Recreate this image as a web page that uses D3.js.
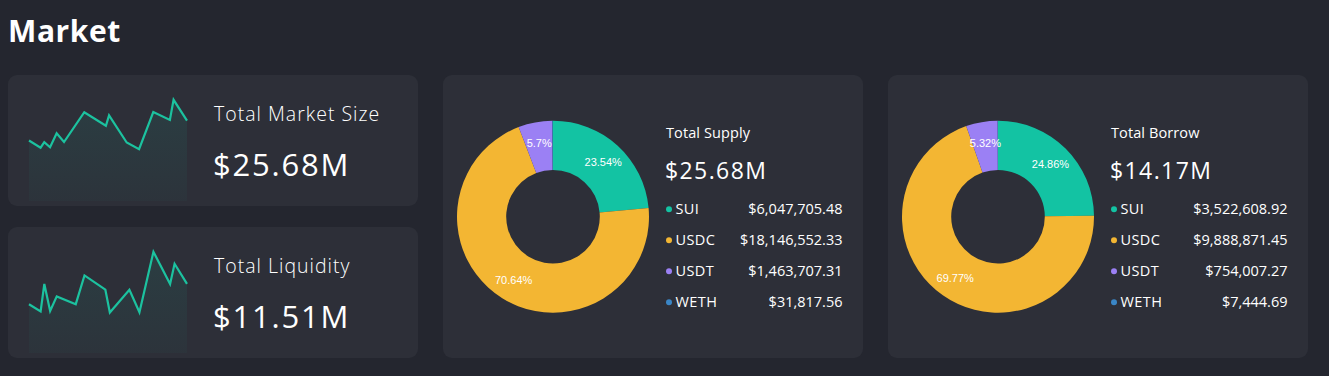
<!DOCTYPE html>
<html><head><meta charset="utf-8">
<script src="https://cdn.jsdelivr.net/npm/d3@7"></script>
<style>
html,body{margin:0;padding:0;background:#24262f;}
svg{display:block;}
text{font-family:"Open Sans",sans-serif;}
</style></head>
<body>
<svg id="c" width="1329" height="376"></svg>
<script>
// ---- data ----
const pageTitle = "Market";
const marketSizeLabel = "Total Market Size";
const marketSizeValue = "$25.68M";
const marketDays = [0, 4.4, 5.8, 8, 10.5, 13.3, 21, 29.2, 30.4, 37.1, 41.8, 47.2, 53.5, 54.9, 60];
const marketValues = [60.5, 53.3, 58.8, 53.7, 67.7, 59, 88.8, 75.2, 85.6, 58.5, 51.8, 89, 81, 101.2, 80.3];

const liquidityLabel = "Total Liquidity";
const liquidityValue = "$11.51M";
const liquidityDays = [0, 4.4, 5.8, 8, 10.5, 17.7, 21, 28.9, 30.6, 38, 41.8, 47.1, 53.4, 55.1, 59.8];
const liquidityValues = [48.5, 41.3, 68.7, 41.8, 56.3, 48.6, 77.2, 63, 40.3, 63, 40.5, 100.7, 68.7, 88.8, 68.8];

const assets = ["SUI", "USDC", "USDT", "WETH"];
const assetColors = ["#13c3a3", "#f3b633", "#9b80f4", "#3a86c6"];

const supplyLabel = "Total Supply";
const supplyTotal = "$25.68M";
const supplyValues = [6047705.48, 18146552.33, 1463707.31, 31817.56];

const borrowLabel = "Total Borrow";
const borrowTotal = "$14.17M";
const borrowValues = [3522608.92, 9888871.45, 754007.27, 7444.69];

// ---- helpers ----
// percentages with 2 decimals that sum to 100 (largest remainder method)
function percents(values) {
  const sum = d3.sum(values);
  const digits = 100 * 100;
  const raw = values.map(v => v / sum * digits);
  const floors = raw.map(Math.floor);
  let left = digits - d3.sum(floors);
  const rem = raw.map((r, i) => r - floors[i]);
  while (left > 0) {
    let mi = 0;
    rem.forEach((r, i) => { if (r > rem[mi]) mi = i; });
    floors[mi] += 1; rem[mi] = -1; left--;
  }
  return floors.map(f => f / 100);
}

// ---- drawing ----
const svg = d3.select("#c");
const cardFill = "#2d2f38";

svg.append("text").attr("x", 8).attr("y", 42)
  .attr("fill", "#ffffff").attr("font-size", 30).attr("font-weight", 700)
  .attr("letter-spacing", 0.6)
  .text(pageTitle);

const defs = svg.append("defs");
const grad = defs.append("linearGradient").attr("id", "areaGrad")
  .attr("x1", 0).attr("y1", 0).attr("x2", 0).attr("y2", 1);
grad.append("stop").attr("offset", "0%").attr("stop-color", "#17c2a0").attr("stop-opacity", 0.10);
grad.append("stop").attr("offset", "100%").attr("stop-color", "#17c2a0").attr("stop-opacity", 0.03);

function sparkCard(top, days, values, label, value) {
  const g = svg.append("g").attr("transform", `translate(8,${top})`);
  g.append("rect").attr("width", 410).attr("height", 131).attr("rx", 9).attr("fill", cardFill);
  const x = d3.scaleLinear().domain(d3.extent(days)).range([21, 179]);
  const y = d3.scaleLinear().domain([0, d3.max(values)]).range([126, 24.8]);
  const pts = days.map((d, i) => [d, values[i]]);
  g.append("path").datum(pts)
    .attr("fill", "url(#areaGrad)")
    .attr("d", d3.area().x(d => x(d[0])).y0(y(0)).y1(d => y(d[1])));
  g.append("path").datum(pts)
    .attr("fill", "none").attr("stroke", "#1cc29f").attr("stroke-width", 2.2)
    .attr("stroke-linejoin", "miter")
    .attr("d", d3.line().x(d => x(d[0])).y(d => y(d[1])));
  g.append("text").attr("x", 206).attr("y", 46).attr("fill", "#ffffff")
    .attr("font-size", 19.5).attr("font-weight", 300).attr("letter-spacing", 1)
    .text(label);
  g.append("text").attr("x", 205).attr("y", 100.7).attr("fill", "#ffffff")
    .attr("font-size", 31).attr("font-weight", 400).attr("letter-spacing", 1.8)
    .text(value);
}
sparkCard(75, marketDays, marketValues, marketSizeLabel, marketSizeValue);
sparkCard(227, liquidityDays, liquidityValues, liquidityLabel, liquidityValue);

const color = d3.scaleOrdinal().domain(assets).range(assetColors);
const money = d3.format("$,.2f");

function donutCard(left, values, label, total) {
  const g = svg.append("g").attr("transform", `translate(${left},75)`);
  g.append("rect").attr("width", 420).attr("height", 283).attr("rx", 9).attr("fill", cardFill);
  const pcts = percents(values);
  const data = assets.map((a, i) => ({ name: a, value: values[i], pct: pcts[i] }));
  const pie = d3.pie().sort(null).value(d => d.value);
  const arcs = pie(data);
  const arc = d3.arc().innerRadius(46.8).outerRadius(96);
  const labelArc = d3.arc().innerRadius(74.5).outerRadius(74.5);
  const c = g.append("g").attr("transform", "translate(110,141.7)");
  c.selectAll("path").data(arcs).join("path")
    .attr("d", arc).attr("fill", d => color(d.data.name));
  c.selectAll("text").data(arcs.filter(d => d.data.pct >= 1)).join("text")
    .attr("transform", d => `translate(${labelArc.centroid(d)})`)
    .attr("text-anchor", "middle").attr("dy", "0.35em")
    .attr("fill", "#ffffff").attr("font-size", 11)
    .style("font-family", "'Liberation Sans', Arial, sans-serif")
    .text(d => (+d.data.pct.toFixed(2)) + "%");

  g.append("text").attr("x", 223).attr("y", 62.5).attr("fill", "#ffffff")
    .attr("font-size", 14.5).attr("font-weight", 400).attr("letter-spacing", 0.1).text(label);
  g.append("text").attr("x", 222).attr("y", 104).attr("fill", "#ffffff")
    .attr("font-size", 23).attr("font-weight", 400).attr("letter-spacing", 1.4).text(total);
  const rows = g.selectAll("g.row").data(data).join("g").attr("class", "row")
    .attr("transform", (d, i) => `translate(0,${134.3 + i * 31})`);
  rows.append("circle").attr("cx", 226).attr("cy", 0).attr("r", 3).attr("fill", d => color(d.name));
  rows.append("text").attr("x", 232.5).attr("y", 5).attr("fill", "#ffffff")
    .attr("font-size", 14.5).attr("letter-spacing", 0.4).text(d => d.name);
  rows.append("text").attr("x", 399.5).attr("y", 5).attr("text-anchor", "end").attr("fill", "#ffffff")
    .attr("font-size", 14.5).attr("letter-spacing", 0).text(d => money(d.value));
}
donutCard(443, supplyValues, supplyLabel, supplyTotal);
donutCard(888, borrowValues, borrowLabel, borrowTotal);
</script>
</body></html>
